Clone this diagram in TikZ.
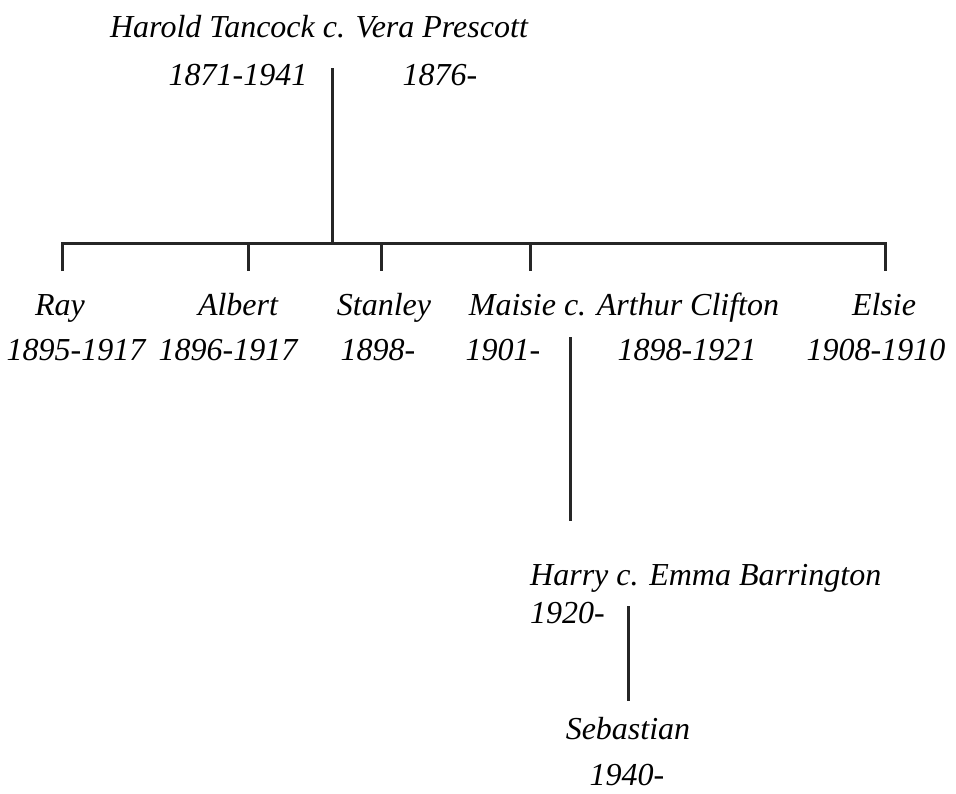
\documentclass[tikz,border=0pt]{standalone}
\usepackage{fontspec}
\setmainfont{Liberation Serif}
\begin{document}
\begin{tikzpicture}[x=1pt,y=-1pt,
  lbl/.style={anchor=base,inner sep=0pt,font=\fontsize{32}{34}\selectfont\itshape},
  ln/.style={line width=3pt,line cap=butt,color=black!85}]
\useasboundingbox[fill=white] (0,0) rectangle (956,793);
% top couple
\node[lbl] (harold) at (319,37) {Harold Tancock c. Vera Prescott};
\node[lbl] (hd) at (238,85) {1871-1941};
\node[lbl] (vd) at (440,85) {1876-};
% children
\node[lbl] (ray) at (60,315) {Ray};
\node[lbl] (rayd) at (76,360) {1895-1917};
\node[lbl] (albert) at (238,315) {Albert};
\node[lbl] (albertd) at (228,360) {1896-1917};
\node[lbl] (stanley) at (384,315) {Stanley};
\node[lbl] (stanleyd) at (378,360) {1898-};
\node[lbl] (maisie) at (624,315) {Maisie c. Arthur Clifton};
\node[lbl] (maisied) at (503,360) {1901-};
\node[lbl] (arthurd) at (687,360) {1898-1921};
\node[lbl] (elsie) at (884,315) {Elsie};
\node[lbl] (elsied) at (876,360) {1908-1910};
% Harry
\node[lbl,anchor=base west] (harry) at (530,585) {Harry c. Emma Barrington};
\node[lbl,anchor=base west] (harryd) at (530,623) {1920-};
% Sebastian
\node[lbl] (seb) at (628,739) {Sebastian};
\node[lbl] (sebd) at (627,785) {1940-};
% coordinates
\coordinate (ptop) at (332,68);
\coordinate (pbar) at (332,243);
\coordinate (bl) at (62,243);
\coordinate (br) at (885,243);
\coordinate (c1) at (62,271);
\coordinate (c2t) at (248,243);
\coordinate (c2) at (248,271);
\coordinate (c3t) at (381,243);
\coordinate (c3) at (381,271);
\coordinate (c4t) at (530,243);
\coordinate (c4) at (530,271);
\coordinate (c5) at (885,271);
\coordinate (mtop) at (570,337);
\coordinate (mbot) at (570,521);
\coordinate (htop) at (628,606);
\coordinate (hbot) at (628,701);
\draw[ln] (ptop) -- (pbar);
\draw[ln] (c1) -- (bl) -- (br) -- (c5);
\draw[ln] (c2t) -- (c2);
\draw[ln] (c3t) -- (c3);
\draw[ln] (c4t) -- (c4);
\draw[ln] (mtop) -- (mbot);
\draw[ln] (htop) -- (hbot);
\end{tikzpicture}
\end{document}
